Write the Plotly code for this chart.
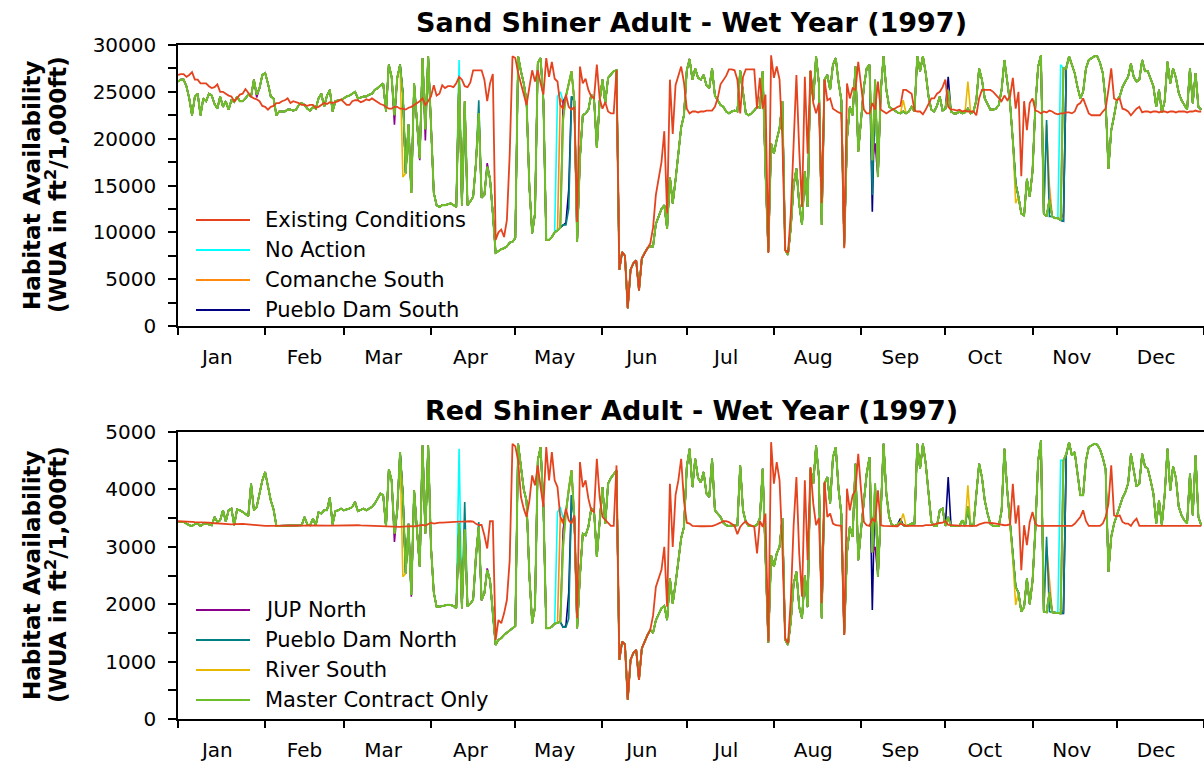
import pandas as pd
import plotly.graph_objects as go

# Daily time axis for the 1997 water year plots
days = pd.date_range("1997-01-01", periods=365, freq="D")
month_labels = ["Jan", "Feb", "Mar", "Apr", "May", "Jun",
                "Jul", "Aug", "Sep", "Oct", "Nov", "Dec"]
mid_month = [pd.Timestamp(1997, m, 15) for m in range(1, 13)]

# ---- Sand Shiner adult habitat (WUA, ft2 / 1,000 ft) ----
sand_existing = [
    26800, 26900, 26900, 26600, 26800, 27100, 26300, 26300, 25900, 25900,
    25900, 25600, 25400, 25500, 25800, 25000, 25000, 24800, 24600, 24500,
    24000, 24300, 24700, 24800, 25300, 24900, 24500, 24300, 24200, 24000,
    23500, 23400, 23100, 23400, 23500, 23800, 23800, 24000, 24100, 24300,
    23800, 24000, 23900, 23800, 23600, 23600, 23500, 23600, 23600, 23300,
    23400, 23600, 23800, 23700, 23900, 23800, 23900, 24000, 24200, 23900,
    23600, 23600, 24000, 24100, 24100, 23900, 24000, 24200, 24100, 24300,
    24100, 23900, 23700, 23600, 23400, 23200, 23200, 23400, 23400, 23200,
    23200, 23100, 23300, 23400, 23600, 23800, 24000, 24300, 23600, 24000,
    24500, 25700, 24600, 24800, 25700, 25400, 25600, 25600, 25500, 25900,
    26600, 26300, 25600, 25500, 26000, 27300, 27300, 27300, 27300, 26300,
    24000, 25900, 26900, 9200, 10000, 10300, 9500, 11300, 18300, 28800,
    28600, 27000, 25900, 24600, 23600, 25500, 27300, 26100, 27300, 25900,
    24700, 28600, 26600, 28200, 26400, 26100, 23600, 23200, 24700, 23400,
    23100, 23400, 11100, 27700, 25900, 26400, 25200, 24500, 24300, 27900,
    24300, 23200, 23900, 22900, 22700, 22700, 27300, 6000, 7900, 7500,
    1900, 6000, 6700, 7000, 3800, 7200, 7800, 8300, 8800, 10500,
    14000, 15700, 17500, 20800, 12000, 26300, 20500, 25700, 26600, 27700,
    26000, 23200, 22700, 22900, 22900, 22800, 22900, 22900, 23000, 23000,
    23000, 23400, 24300, 25800, 26300, 26700, 27400, 27400, 27300, 26300,
    22700, 26600, 27400, 27400, 27400, 27400, 23200, 26500, 23200, 24700,
    7800, 28900, 26500, 27700, 26300, 20000, 8100, 7800, 12000, 20000,
    26800, 18800, 12700, 26600, 18400, 27300, 23800, 22700, 23800, 13100,
    26300, 24100, 24300, 23200, 23000, 22800, 22700, 8300, 25900, 24300,
    25400, 25200, 28200, 25700, 23100, 22700, 22700, 23800, 23100, 26100,
    23100, 22900, 22700, 22900, 23100, 23200, 23400, 23500, 25200, 25200,
    25000, 24800, 23000, 22900, 22900, 22600, 23100, 23800, 24300, 24300,
    24800, 25000, 25500, 26300, 23400, 23100, 23100, 23000, 23100, 22900,
    23000, 22900, 22900, 22900, 22500, 24300, 25200, 25200, 25200, 25200,
    25000, 24700, 24300, 24000, 24600, 24100, 24500, 26500, 23200, 25000,
    16000, 24000, 20900, 23800, 24300, 23000, 22900, 22700, 22900, 22800,
    23000, 22900, 22700, 22600, 22700, 22700, 22800, 22800, 22700, 22900,
    23600, 23800, 24300, 23500, 22700, 22500, 22500, 22500, 22500, 22900,
    23200, 25200, 27500, 24300, 24100, 24300, 23200, 23100, 22900, 22500,
    22900, 23200, 23400, 22800, 22900, 22900, 22800, 22900, 22900, 22800,
    22900, 22900, 22800, 22900, 22900, 22800, 22900, 22900, 22900, 22800,
    22900, 22900, 23000, 22900, 22900,
]

sand_master = [
    26100, 26300, 26300, 25600, 24300, 22500, 24500, 24800, 22500, 24300,
    24000, 24800, 24600, 23700, 23200, 24500, 23400, 24000, 23100, 24100,
    23900, 24500, 24000, 24000, 24300, 24700, 24500, 26300, 24700, 25400,
    26800, 27000, 25900, 24500, 24300, 22500, 22900, 22900, 22900, 23100,
    23100, 23000, 23100, 23600, 23800, 23600, 23200, 23000, 23400, 23200,
    24300, 24800, 23400, 24600, 25200, 22900, 24000, 24100, 24100, 24300,
    24500, 24600, 24800, 25000, 24300, 24400, 24500, 24500, 24700, 24800,
    25200, 25400, 25700, 25900, 22900, 27900, 26600, 22500, 26500, 27900,
    24800, 16300, 21500, 14200, 25900, 21500, 17900, 28600, 21000, 28800,
    20400, 14200, 12900, 12700, 12900, 12900, 13000, 13100, 12900, 12700,
    26500, 12900, 24000, 12900, 13300, 13800, 17400, 22700, 13700, 14000,
    17000, 15700, 12000, 7800, 8000, 8200, 8300, 8500, 8900, 9000,
    9400, 28800, 27200, 25900, 24000, 14900, 9900, 12000, 28100, 28600,
    24000, 9200, 9200, 9500, 10000, 10200, 10500, 22000, 24500, 25900,
    27200, 24000, 9000, 18000, 22500, 22700, 23100, 24700, 24300, 19000,
    24000, 26300, 23800, 26500, 26800, 27200, 27300, 6000, 7900, 7500,
    1900, 6000, 6700, 7000, 3800, 7200, 7800, 8300, 8500, 8500,
    10900, 11800, 12500, 12900, 10400, 15900, 13100, 15600, 18300, 21200,
    22500, 27300, 28500, 26300, 27500, 26500, 26300, 26800, 25700, 25400,
    27500, 24600, 24100, 23600, 23400, 22900, 22700, 22900, 23000, 22900,
    27300, 24800, 22700, 22500, 22700, 23000, 23400, 23300, 27200, 16500,
    7900, 19500, 18400, 19900, 21100, 24000, 8100, 7600, 10500, 15000,
    16800, 13000, 10800, 16500, 12700, 27200, 24100, 28800, 25900, 10800,
    26300, 26800, 25200, 27900, 28600, 26000, 24100, 8500, 20000, 23400,
    22500, 27700, 18600, 22000, 25500, 27500, 27900, 17700, 26300, 15900,
    25000, 28800, 25200, 23400, 23200, 23000, 22800, 22700, 22900, 22700,
    22900, 23400, 22900, 28800, 27200, 28800, 27000, 24500, 23100, 22900,
    23500, 24500, 23000, 23200, 25200, 22900, 22700, 22700, 22900, 22700,
    22800, 23200, 22700, 22900, 24100, 27500, 26300, 24300, 23600, 23100,
    23100, 23200, 23600, 25200, 28400, 25900, 23800, 19800, 15200, 13800,
    12000, 11800, 15700, 13800, 16500, 23500, 27700, 28900, 12000, 11700,
    13500, 11700, 11500, 11500, 11300, 27500, 27500, 28800, 28000, 27000,
    25500, 24300, 25000, 27500, 28400, 28600, 28800, 28800, 28100, 27000,
    24000, 16800, 20900, 22400, 24100, 24500, 25500, 26100, 26600, 28000,
    26600, 26100, 26300, 28400, 27200, 27200, 26500, 25600, 23400, 25200,
    22800, 24000, 28200, 25900, 27500, 26500, 24900, 24100, 23600, 23100,
    27500, 23800, 27000, 23400, 23100,
]

# Days (0 = Jan 1) on which an alternative departs from Master Contract Only
sand_no_action_changes = {100: 28400, 135: 24500, 136: 25000, 137: 24000, 314: 27900}
sand_comanche_south_changes = {136: 24300, 137: 23800, 249: 16100, 309: 21500,
                               310: 15000, 311: 11700, 315: 12000, 316: 27500}
sand_pueblo_dam_south_changes = {137: 10800, 138: 11000, 139: 14500, 140: 24500,
                                 247: 12200, 274: 26600, 315: 11200, 316: 27600}
sand_jup_north_changes = {28: 24400, 77: 21500, 86: 17700, 88: 19800, 110: 17400,
                          137: 24000, 248: 19500}
sand_pueblo_dam_north_changes = {102: 22000, 107: 24100, 137: 10800, 138: 10800,
                                 139: 12500, 140: 24500, 241: 27700, 247: 14000,
                                 309: 22000, 310: 11700, 315: 11200, 316: 27600}
sand_river_south_changes = {80: 15900, 258: 24100, 281: 26100, 298: 13100}

# ---- Red Shiner adult habitat (WUA, ft2 / 1,000 ft) ----
red_existing = [
    3445, 3445, 3440, 3440, 3435, 3435, 3430, 3430, 3425, 3425,
    3420, 3420, 3415, 3410, 3405, 3400, 3400, 3395, 3390, 3390,
    3395, 3400, 3405, 3400, 3395, 3390, 3380, 3375, 3370, 3365,
    3365, 3364, 3364, 3366, 3368, 3366, 3364, 3364, 3366, 3368,
    3370, 3368, 3366, 3364, 3366, 3370, 3372, 3370, 3368, 3366,
    3368, 3370, 3372, 3370, 3368, 3370, 3372, 3374, 3372, 3374,
    3375, 3375, 3378, 3375, 3375, 3372, 3370, 3372, 3370, 3368,
    3364, 3364, 3360, 3358, 3350, 3346, 3350, 3346, 3350, 3346,
    3350, 3355, 3350, 3360, 3355, 3360, 3370, 3380, 3370, 3390,
    3420, 3405, 3416, 3420, 3420, 3425, 3430, 3430, 3430, 3435,
    3440, 3440, 3445, 3440, 3445, 3440, 3400, 3380, 3380, 3200,
    2970, 3445, 3445, 1378, 1725, 1668, 1841, 2073, 2768, 4794,
    4750, 4500, 3868, 3665, 3520, 3800, 4244, 4070, 4418, 4041,
    3694, 4736, 4157, 4649, 4157, 4041, 3520, 3433, 3665, 3462,
    3405, 3549, 1754, 4476, 4041, 4157, 3839, 3636, 3607, 4534,
    3868, 3520, 3462, 3405, 3364, 3364, 4418, 1031, 1349, 1300,
    336, 1031, 1150, 1204, 683, 1230, 1349, 1460, 1552, 1800,
    2300, 2450, 2600, 2999, 1957, 4099, 2999, 3900, 4157, 4534,
    3800, 3420, 3405, 3364, 3358, 3358, 3358, 3358, 3358, 3358,
    3360, 3376, 3405, 3420, 3445, 3445, 3430, 3400, 3364, 3219,
    3346, 3405, 3445, 3390, 3364, 3346, 2883, 3450, 3346, 3578,
    1349, 4823, 4099, 4476, 4157, 3000, 1407, 1320, 2073, 3364,
    4215, 2883, 2130, 4157, 2768, 4389, 3752, 3376, 3500, 2015,
    4131, 3520, 3578, 3405, 3376, 3370, 3364, 1465, 4013, 3636,
    3897, 3984, 4620, 3984, 3433, 3376, 3364, 3491, 3433, 3984,
    3376, 3364, 3364, 3358, 3358, 3358, 3358, 3405, 3380, 3364,
    3364, 3358, 3364, 3364, 3358, 3364, 3376, 3376, 3376, 3390,
    3405, 3415, 3420, 3445, 3380, 3376, 3364, 3364, 3364, 3364,
    3364, 3364, 3364, 3364, 3364, 3390, 3405, 3420, 3420, 3420,
    3410, 3405, 3395, 3390, 3376, 3380, 3390, 4099, 3405, 3723,
    2594, 3376, 3030, 3433, 3607, 3400, 3364, 3364, 3364, 3364,
    3364, 3364, 3364, 3364, 3364, 3364, 3364, 3364, 3364, 3400,
    3462, 3520, 3636, 3450, 3364, 3364, 3364, 3364, 3364, 3405,
    3520, 3750, 4418, 3549, 3530, 3549, 3433, 3405, 3405, 3364,
    3440, 3491, 3364, 3364, 3364, 3364, 3364, 3364, 3364, 3364,
    3364, 3364, 3364, 3364, 3364, 3364, 3364, 3364, 3364, 3364,
    3364, 3364, 3364, 3364, 3364,
]

red_master = [
    3433, 3433, 3433, 3405, 3376, 3364, 3395, 3405, 3364, 3395,
    3405, 3390, 3376, 3520, 3433, 3462, 3636, 3440, 3636, 3665,
    3376, 3650, 3636, 3607, 3578, 3535, 4099, 3636, 3694, 3926,
    4157, 4302, 4041, 3810, 3650, 3364, 3364, 3364, 3364, 3364,
    3364, 3364, 3364, 3364, 3376, 3520, 3390, 3376, 3490, 3376,
    3600, 3580, 3636, 3636, 3856, 3390, 3620, 3636, 3665, 3636,
    3650, 3665, 3694, 3781, 3620, 3640, 3665, 3636, 3665, 3694,
    3752, 3839, 3926, 3900, 3346, 4350, 4157, 3231, 3636, 4649,
    3900, 2536, 3400, 2160, 3984, 3300, 2652, 4765, 3231, 4765,
    3000, 2200, 1957, 1957, 1970, 1980, 1990, 1985, 1970, 1928,
    3400, 1930, 3300, 1960, 2010, 2080, 2850, 3346, 2070, 2190,
    2594, 2420, 1800, 1291, 1378, 1407, 1465, 1500, 1535, 1570,
    1620, 4794, 4400, 4000, 3800, 2500, 1668, 1950, 4505, 4736,
    3700, 1580, 1580, 1610, 1660, 1680, 1690, 3000, 3600, 4000,
    4331, 3500, 1580, 2500, 3230, 3200, 3350, 3665, 3636, 2825,
    3462, 4041, 3400, 4099, 4200, 4273, 4330, 1031, 1349, 1300,
    336, 1031, 1150, 1204, 683, 1230, 1349, 1460, 1550, 1500,
    1720, 1840, 1930, 1970, 1725, 2449, 2010, 2360, 2768, 3150,
    3346, 4389, 4707, 4041, 4534, 4200, 4120, 4302, 3926, 3868,
    4534, 3636, 3578, 3520, 3420, 3376, 3364, 3364, 3364, 3376,
    4418, 3636, 3433, 3364, 3364, 3364, 3380, 3500, 4360, 2768,
    1332, 2854, 2650, 2883, 3000, 3500, 1380, 1291, 1700, 2350,
    2565, 1950, 1754, 2500, 1950, 4360, 4099, 4765, 4215, 1754,
    4099, 4215, 3752, 4560, 4736, 4000, 3565, 1465, 2900, 3346,
    3173, 4447, 2768, 3300, 3810, 4273, 4563, 2900, 4099, 2478,
    3578, 4794, 3926, 3520, 3376, 3364, 3390, 3433, 3376, 3364,
    3376, 3405, 3405, 4794, 4360, 4794, 4450, 3926, 3433, 3364,
    3364, 3636, 3665, 3364, 3520, 3364, 3364, 3364, 3364, 3462,
    3364, 3694, 3364, 3376, 3926, 4447, 4215, 3810, 3578, 3400,
    3364, 3364, 3364, 3636, 4707, 3984, 3433, 2768, 2304, 2200,
    1870, 1950, 2449, 2000, 2400, 3300, 4500, 4852, 1870, 1860,
    2200, 1860, 1850, 1850, 1840, 4505, 4620, 4823, 4592, 4650,
    4300, 3900, 3900, 4500, 4736, 4765, 4794, 4780, 4700, 4550,
    4350, 2565, 3173, 3400, 3550, 3700, 3850, 3950, 4100, 4620,
    4330, 4050, 4099, 4620, 4400, 4360, 4157, 3926, 3405, 3810,
    3376, 3900, 4707, 3984, 4400, 4200, 3700, 3549, 3462, 3405,
    4273, 3549, 4592, 3520, 3376,
]

red_no_action_changes = {100: 4707, 135: 3600, 136: 3694, 137: 3500, 314: 4505}
red_comanche_south_changes = {136: 3500, 137: 3400, 309: 3000, 310: 2400, 311: 1860,
                              315: 1900, 316: 4600}
red_pueblo_dam_south_changes = {137: 1600, 138: 1620, 139: 2200, 140: 3900, 247: 1899,
                                257: 3491, 274: 4215, 315: 1840, 316: 4600}
red_jup_north_changes = {77: 3086, 83: 2130, 110: 2623, 137: 3300, 248: 3000}
red_pueblo_dam_north_changes = {102: 3781, 107: 3433, 137: 1600, 138: 1600, 139: 1750,
                                140: 3900, 309: 3173, 310: 1870, 315: 1850, 316: 4600}
red_river_south_changes = {80: 2478, 258: 3578, 281: 4070, 298: 1986}

series_names = ["Existing Conditions", "No Action", "Comanche South", "Pueblo Dam South",
                "JUP North", "Pueblo Dam North", "River South", "Master Contract Only"]

assert all(len(s) == 365 for s in (sand_existing, sand_master, red_existing, red_master))


def with_changes(base, changes):
    values = list(base)
    for day_index, value in changes.items():
        values[day_index] = value
    return values


sand = {
    "Existing Conditions": sand_existing,
    "No Action": with_changes(sand_master, sand_no_action_changes),
    "Comanche South": with_changes(sand_master, sand_comanche_south_changes),
    "Pueblo Dam South": with_changes(sand_master, sand_pueblo_dam_south_changes),
    "JUP North": with_changes(sand_master, sand_jup_north_changes),
    "Pueblo Dam North": with_changes(sand_master, sand_pueblo_dam_north_changes),
    "River South": with_changes(sand_master, sand_river_south_changes),
    "Master Contract Only": sand_master,
}
red = {
    "Existing Conditions": red_existing,
    "No Action": with_changes(red_master, red_no_action_changes),
    "Comanche South": with_changes(red_master, red_comanche_south_changes),
    "Pueblo Dam South": with_changes(red_master, red_pueblo_dam_south_changes),
    "JUP North": with_changes(red_master, red_jup_north_changes),
    "Pueblo Dam North": with_changes(red_master, red_pueblo_dam_north_changes),
    "River South": with_changes(red_master, red_river_south_changes),
    "Master Contract Only": red_master,
}

colors = {
    "Existing Conditions": "#E5431E",
    "No Action": "#00FFFF",
    "Comanche South": "#FF8A10",
    "Pueblo Dam South": "#000080",
    "JUP North": "#8B008B",
    "Pueblo Dam North": "#008080",
    "River South": "#E8B800",
    "Master Contract Only": "#6CBF2A",
}
widths = {name: 1.6 for name in series_names}
widths["Master Contract Only"] = 2.0
widths["Existing Conditions"] = 1.8

# alternatives underneath, Master Contract next, Existing Conditions on top
draw_order = ["No Action", "Comanche South", "Pueblo Dam South", "JUP North",
              "Pueblo Dam North", "River South", "Master Contract Only", "Existing Conditions"]

W, H = 1204, 766
LEFT = 178
FONT = "DejaVu Sans, Verdana, sans-serif"


def fx(px):
    return (px - LEFT) / (W - LEFT)


def fy(py):
    return 1 - py / H


fig = go.Figure()
for name in draw_order:
    fig.add_trace(go.Scatter(x=days, y=sand[name], name=name, mode="lines",
                             line=dict(color=colors[name], width=widths[name]),
                             xaxis="x", yaxis="y", showlegend=False))
for name in draw_order:
    fig.add_trace(go.Scatter(x=days, y=red[name], name=name, mode="lines",
                             line=dict(color=colors[name], width=widths[name]),
                             xaxis="x2", yaxis="y2", showlegend=False))

# month names sit mid-month; the tick marks fall on the month boundaries
xaxis_style = dict(
    type="date", range=["1997-01-01", "1998-01-01"],
    tickmode="array", tickvals=mid_month, ticktext=month_labels, ticks="",
    minor=dict(tickmode="linear", dtick="M1", tick0="1997-01-01", ticks="outside",
               ticklen=7, tickwidth=1.5, tickcolor="black", showgrid=False),
    showline=True, linecolor="black", linewidth=1.5, mirror=True,
    showgrid=False, zeroline=False, tickfont=dict(family=FONT, size=20, color="black"),
    ticklabelstandoff=12, automargin=False, domain=[0, 1],
)
yaxis_style = dict(
    ticks="outside", ticklen=8, tickwidth=1.5, tickcolor="black", showline=True,
    linecolor="black", linewidth=1.5, showgrid=False, zeroline=False, tickformat="d",
    tickfont=dict(family=FONT, size=20, color="black"), ticklabelstandoff=8,
    automargin=False,
)

fig.update_layout(
    width=W, height=H,
    margin=dict(l=LEFT, r=0, t=0, b=0),
    paper_bgcolor="white", plot_bgcolor="white",
    showlegend=False,
    xaxis=dict(xaxis_style, anchor="y"),
    yaxis=dict(yaxis_style, domain=[fy(326), fy(45)], range=[0, 30000], dtick=5000,
               minor=dict(dtick=2500, ticks="outside", ticklen=8, tickcolor="black")),
    xaxis2=dict(xaxis_style, anchor="y2"),
    yaxis2=dict(yaxis_style, domain=[fy(719), fy(432)], range=[0, 5000], dtick=1000,
                minor=dict(dtick=500, ticks="outside", ticklen=8, tickcolor="black")),
)

annotations = []
# panel titles
for text, py in [("Sand Shiner Adult - Wet Year (1997)", 22),
                 ("Red Shiner Adult - Wet Year (1997)", 410)]:
    annotations.append(dict(text=text, x=0.5, y=fy(py), xref="paper", yref="paper",
                            xanchor="center", yanchor="middle", showarrow=False,
                            font=dict(family=FONT, size=27, color="black", weight="bold")))
# y-axis titles
for py in (185, 575):
    annotations.append(dict(text="Habitat Availability", x=fx(32), y=fy(py),
                            xref="paper", yref="paper", textangle=-90, showarrow=False,
                            xanchor="center", yanchor="middle",
                            font=dict(family=FONT, size=23, color="black", weight="bold")))
    annotations.append(dict(text="(WUA in ft<sup>2</sup>/1,000ft)", x=fx(56), y=fy(py),
                            xref="paper", yref="paper", textangle=-90, showarrow=False,
                            xanchor="center", yanchor="middle",
                            font=dict(family=FONT, size=23, color="black", weight="bold")))

# legend keys: first four series in the upper panel, last four in the lower one
shapes = []
legend_rows = [(series_names[:4], 220), (series_names[4:], 610)]
for names, py0 in legend_rows:
    for i, name in enumerate(names):
        py = py0 + 30 * i
        shapes.append(dict(type="line", xref="paper", yref="paper",
                           x0=fx(196), x1=fx(250), y0=fy(py), y1=fy(py),
                           line=dict(color=colors[name], width=2)))
        annotations.append(dict(text=name, x=fx(263), y=fy(py), xref="paper", yref="paper",
                                xanchor="left", yanchor="middle", showarrow=False,
                                font=dict(family=FONT, size=21, color="black")))

fig.update_layout(annotations=annotations, shapes=shapes)
fig.write_html("out.html")
